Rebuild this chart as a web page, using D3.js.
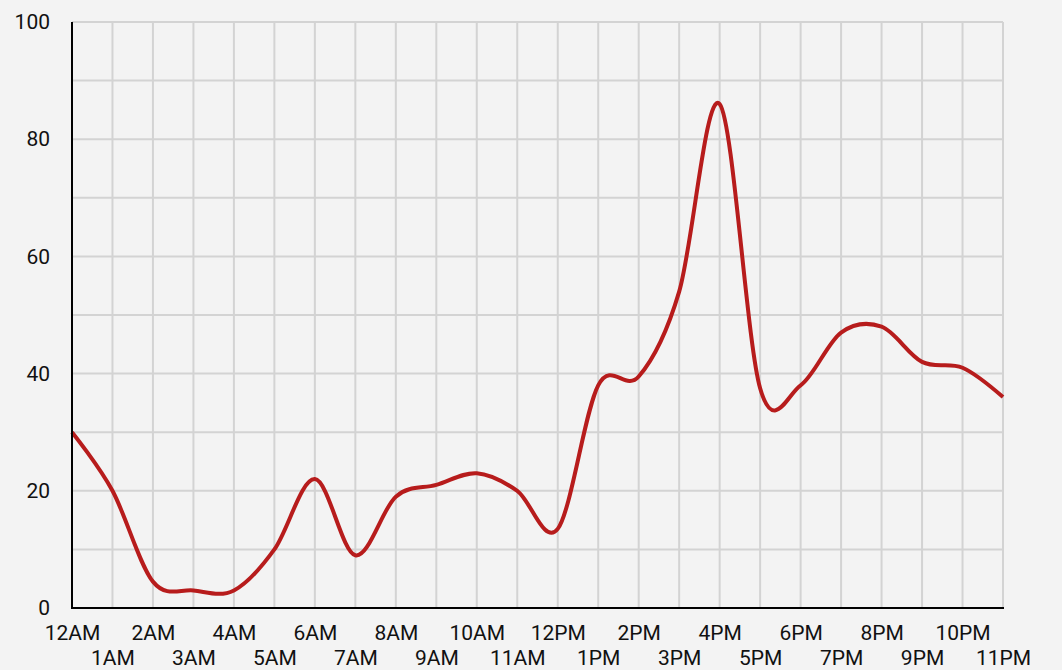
<!DOCTYPE html>
<html>
<head>
<meta charset="utf-8">
<script src="https://cdn.jsdelivr.net/npm/d3@7"></script>
<style>
  body { margin: 0; background: #f3f3f3; }
  svg { display: block; font-family: Roboto, "Noto Sans", sans-serif; }
</style>
</head>
<body>
<svg id="chart"></svg>
<script>
// hours of the day and the value read for each
let hours = ["12AM","1AM","2AM","3AM","4AM","5AM","6AM","7AM","8AM","9AM","10AM","11AM",
             "12PM","1PM","2PM","3PM","4PM","5PM","6PM","7PM","8PM","9PM","10PM","11PM"];
let values = [30, 20, 4.5, 3, 3, 10, 22, 9, 19, 21, 23, 20,
              13.5, 38, 39.5, 54, 86, 37.5, 38, 47, 48, 42, 41, 36];
let yTicks = [0, 20, 40, 60, 80, 100];
let yGrid = [0, 10, 20, 30, 40, 50, 60, 70, 80, 90, 100];

function drawLineChart(id, svgWidth, svgHeight) {
    let svg = d3.select(id)
        .attr("width", svgWidth)
        .attr("height", svgHeight);

    //space round the plot
    let margin = { top: 22, right: 59, bottom: 62, left: 72 };
    let innerWidth = svgWidth - margin.left - margin.right;
    let innerHeight = svgHeight - margin.top - margin.bottom;

    let xScale = d3.scalePoint()
        .domain(hours)
        .range([0, innerWidth]);

    let yScale = d3.scaleLinear()
        .domain([0, 100])
        .range([innerHeight, 0]);

    let g = svg.append("g")
        .attr("transform", `translate(${margin.left},${margin.top})`);

    //grid lines
    g.append("g")
        .selectAll("line")
        .data(yGrid)
        .join("line")
        .attr("x1", 0)
        .attr("x2", innerWidth)
        .attr("y1", d => yScale(d))
        .attr("y2", d => yScale(d))
        .attr("stroke", "#d3d3d3")
        .attr("stroke-width", 2);

    g.append("g")
        .selectAll("line")
        .data(hours)
        .join("line")
        .attr("x1", d => xScale(d))
        .attr("x2", d => xScale(d))
        .attr("y1", 0)
        .attr("y2", innerHeight)
        .attr("stroke", "#d3d3d3")
        .attr("stroke-width", 2);

    //left axis, labels only
    let yAxis = g.append("g")
        .call(d3.axisLeft(yScale).tickValues(yTicks).tickSize(0).tickPadding(22));
    yAxis.select(".domain").remove();
    yAxis.selectAll("text")
        .attr("font-size", "21px")
        .attr("font-family", "Roboto, sans-serif")
        .attr("fill", "#111");

    //bottom axis with staggered labels
    let xAxis = g.append("g")
        .attr("transform", `translate(0,${innerHeight})`)
        .call(d3.axisBottom(xScale).tickSize(0).tickPadding(17));
    xAxis.select(".domain").remove();
    xAxis.selectAll("text")
        .attr("font-size", "21px")
        .attr("font-family", "Roboto, sans-serif")
        .attr("fill", "#111")
        .attr("dy", (d, i) => i % 2 ? "1.9em" : "0.71em");

    //the data line
    let line = d3.line()
        .x((d, i) => xScale(hours[i]))
        .y(d => yScale(d))
        .curve(d3.curveCardinal.tension(0));

    g.append("path")
        .datum(values)
        .attr("d", line)
        .attr("fill", "none")
        .attr("stroke", "#b71c1c")
        .attr("stroke-width", 4);

    //black axis lines
    g.append("line")
        .attr("x1", 0).attr("x2", 0)
        .attr("y1", 0).attr("y2", innerHeight + 1)
        .attr("stroke", "#000")
        .attr("stroke-width", 2);
    g.append("line")
        .attr("x1", -1).attr("x2", innerWidth + 1)
        .attr("y1", innerHeight).attr("y2", innerHeight)
        .attr("stroke", "#000")
        .attr("stroke-width", 2);
}

drawLineChart("#chart", 1062, 670);
</script>
</body>
</html>
